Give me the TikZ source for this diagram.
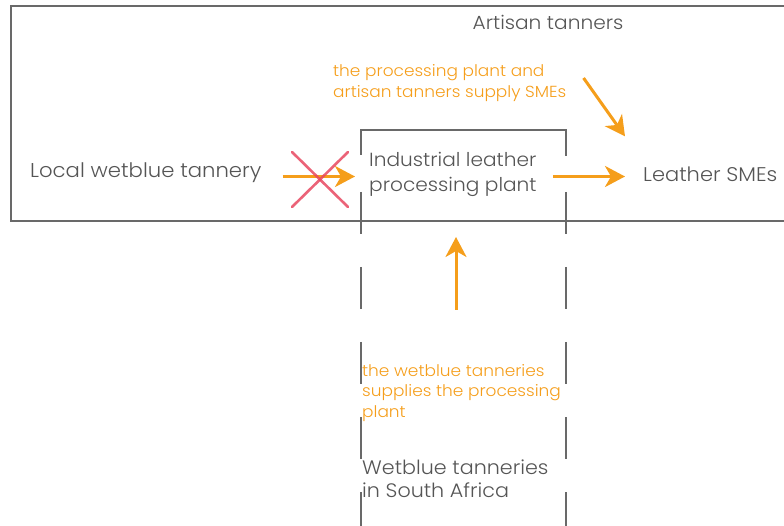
\documentclass[tikz,border=0pt]{standalone}
\usepackage{fontspec}
\setmainfont{Poppins}[UprightFont=* Light,FakeStretch=1.06]
\usetikzlibrary{arrows.meta}
\definecolor{txtgray}{RGB}{85,85,85}
\definecolor{linegray}{RGB}{105,105,105}
\definecolor{flow}{RGB}{245,158,27}
\definecolor{cross}{RGB}{232,72,96}
\begin{document}
\begin{tikzpicture}[x=1pt,y=-1pt,
  label/.style={inner sep=0pt,text=txtgray,font=\fontsize{20}{24}\selectfont},
  note/.style={inner sep=0pt,text=flow,align=left,font=\fontsize{16}{20.5}\selectfont},
  arr/.style={draw=flow,line width=3pt,-{Stealth[length=20pt,width=21pt,inset=6pt]}},
  frame/.style={draw=linegray,line width=1.3pt},
  legdash/.style={frame,dash pattern=on 42pt off 33pt},
  nope/.style={draw=cross,line width=2.6pt,line cap=round,opacity=0.85}]
\useasboundingbox (0,0) rectangle (784,526);
% outer region (open to the right)
\draw[frame] (784,6) -- (11,6) -- (11,221) -- (784,221);
% processing plant bracket and its dashed legs
\draw[frame] (361,155) -- (361,130) -- (566,130) -- (566,156);
\draw[legdash] (361,192) -- (361,526);
\draw[legdash] (566,192) -- (566,526);
% labels
\node[label,font=\fontsize{19}{22}\selectfont] (artisan) at (548,22) {Artisan tanners};
\node[label,anchor=west] (local) at (30,172.5) {Local wetblue tannery};
\node[label,anchor=west,align=left,font=\fontsize{19}{25}\selectfont] (plant) at (369,174.5) {Industrial leather\\processing plant};
\node[label,anchor=west,font=\fontsize{19.8}{24}\selectfont] (sme) at (643,174) {Leather SMEs};
\node[label,anchor=west,align=left,font=\fontsize{19.5}{23}\selectfont] (sa) at (362,479) {Wetblue tanneries\\in South Africa};
\node[note,anchor=west] (supplysme) at (333,83) {the processing plant and\\artisan tanners supply SMEs};
\node[note,anchor=west] (supplyplant) at (362,393) {the wetblue tanneries\\supplies the processing\\plant};
% flows
\draw[arr,shorten <=21pt,shorten >=14pt] ([yshift=-4pt]local.east) -- ([yshift=-4pt]local.east -| plant.west);
\draw[arr,shorten <=16pt,shorten >=18pt] ([yshift=-2pt]plant.east) -- ([yshift=-2pt]plant.east -| sme.west);
\draw[arr] ([shift={(17,-5)}]supplysme.east) -- ([shift={(-18,-30)}]sme.north west);
\coordinate (upfrom) at (456,310);
\draw[arr] (upfrom) -- (upfrom |- 0,237);
% blocked supply
\draw[nope] (292,152) -- (348,207);
\draw[nope] (348,152) -- (292,207);
\end{tikzpicture}
\end{document}
